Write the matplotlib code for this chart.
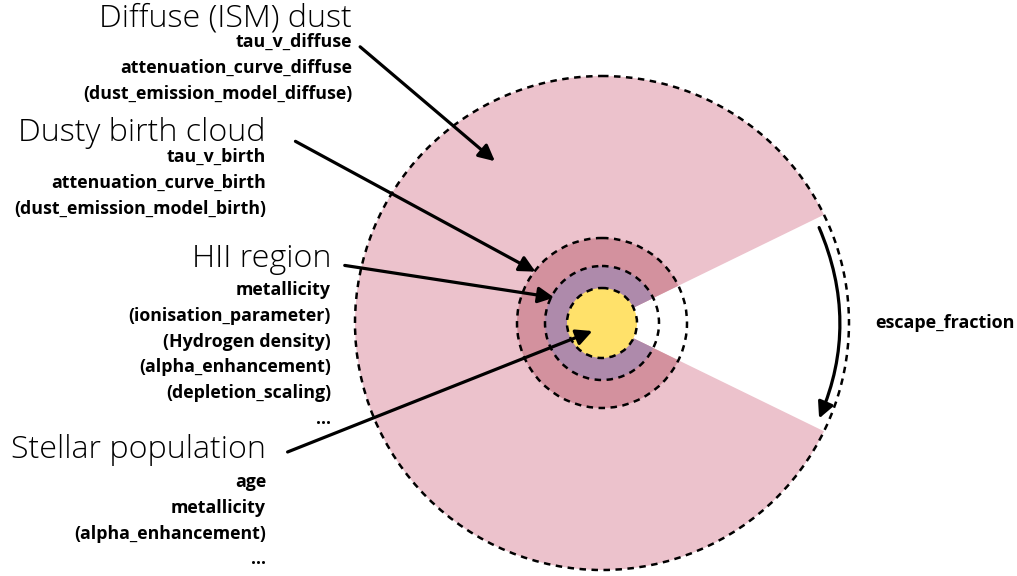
import matplotlib

matplotlib.use("Agg")
import matplotlib.pyplot as plt
from matplotlib.patches import Wedge, Circle, FancyArrowPatch

W, H = 1017, 576
CENTER = (602, 323)

# rings: outer radius, fill colour, whether the escape wedge is cut out
RING_RADII = [247, 85, 57, 35]
RING_COLORS = ["#ecc2cc", "#d3919e", "#ae8aab", "#ffe16a"]
RING_CUT = [True, True, True, False]
GAP_HALF_ANGLE = 26

HEADERS = ["Diffuse (ISM) dust", "Dusty birth cloud", "HII region", "Stellar population"]
HEADER_POS = [(352, 18), (266, 133), (331, 259), (266, 450)]
PARAMS = [
    ["tau_v_diffuse", "attenuation_curve_diffuse", "(dust_emission_model_diffuse)"],
    ["tau_v_birth", "attenuation_curve_birth", "(dust_emission_model_birth)"],
    ["metallicity", "(ionisation_parameter)", "(Hydrogen density)",
     "(alpha_enhancement)", "(depletion_scaling)", "..."],
    ["age", "metallicity", "(alpha_enhancement)", "..."],
]
PARAM_FIRST_Y = [42, 157, 290, 482]
LINE_STEP = 25.8

ARROWS = [
    ((358, 45), (497, 163)),
    ((293, 140), (538, 273)),
    ((342, 265), (557, 298)),
    ((285, 453), (595, 330)),
]

fig = plt.figure(figsize=(W / 100, H / 100), dpi=100)
ax = fig.add_axes([0, 0, 1, 1])
ax.set_xlim(0, W)
ax.set_ylim(H, 0)
ax.set_aspect("equal")
ax.axis("off")

# filled rings; the wedge leaves the escape gap blank
for r, c, cut in zip(RING_RADII, RING_COLORS, RING_CUT):
    if cut:
        ax.add_patch(Wedge(CENTER, r, GAP_HALF_ANGLE, 360 - GAP_HALF_ANGLE, color=c, lw=0))
    else:
        ax.add_patch(Circle(CENTER, r, color=c, lw=0))
for r in RING_RADII:
    ax.add_patch(Circle(CENTER, r, fill=False, ec="black", lw=1.8,
                        ls=(0, (2.6, 2.2)), zorder=3))

# escape fraction arc
ax.add_patch(FancyArrowPatch((CENTER[0] + 216, CENTER[1] - 98), (CENTER[0] + 216, CENTER[1] + 98),
                             connectionstyle="arc3,rad=-0.22", arrowstyle="-|>",
                             mutation_scale=24, lw=2.3, color="black", zorder=4))
ax.text(875, 323, "escape_fraction", fontsize=13, fontweight="bold",
        family="Open Sans", ha="left", va="center")

for head, (hx, hy), plist, py in zip(HEADERS, HEADER_POS, PARAMS, PARAM_FIRST_Y):
    ax.text(hx, hy, head, fontsize=23.2, fontweight="light", family="Open Sans",
            ha="right", va="center")
    for i, p in enumerate(plist):
        ax.text(hx, py + i * LINE_STEP, p, fontsize=12.8, fontweight="bold",
                family="Open Sans", ha="right", va="center")

for start, end in ARROWS:
    ax.add_patch(FancyArrowPatch(start, end, arrowstyle="-|>", mutation_scale=24,
                                 lw=2.3, color="black", zorder=5))

fig.savefig("out.png", dpi=100)
